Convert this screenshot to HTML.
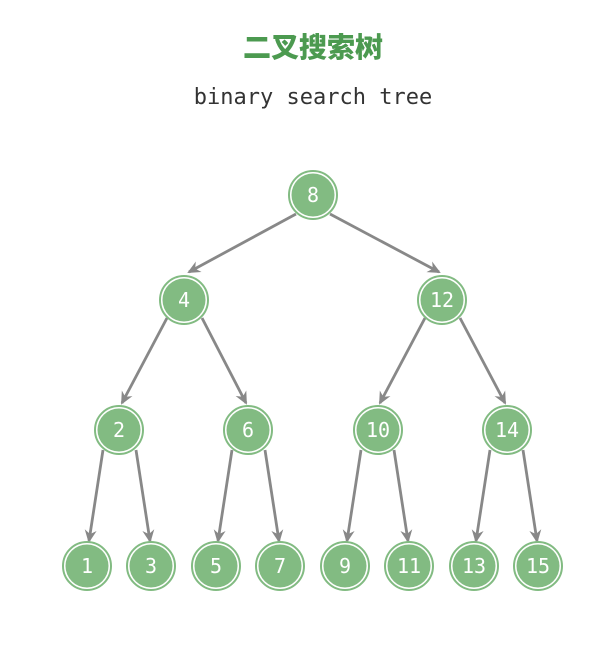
<!DOCTYPE html>
<html><head><meta charset="utf-8"><style>
html,body{margin:0;padding:0;background:#fff;}
</style></head><body>
<svg width="596" height="648" xmlns="http://www.w3.org/2000/svg">
<defs>
<marker id="a" markerWidth="14" markerHeight="14" refX="11" refY="7" orient="auto" markerUnits="userSpaceOnUse" viewBox="0 0 14 14">
<path d="M0,1 L13,7 L0,13 L4,7 Z" fill="#888"/>
</marker>
</defs>
<text x="313" y="57" text-anchor="middle" font-family="'Noto Sans CJK SC',sans-serif" font-weight="900" font-size="28" fill="#4c9a50">二叉搜索树</text>
<text x="313" y="104" text-anchor="middle" font-family="'DejaVu Sans Mono','Liberation Mono',monospace" font-size="22" fill="#333">binary search tree</text>
<g stroke="#888" stroke-width="2.8" fill="none" marker-end="url(#a)">
<line x1="296" y1="214" x2="189" y2="272"/>
<line x1="330" y1="214" x2="439" y2="272"/>
<line x1="167" y1="318" x2="122" y2="403"/>
<line x1="202" y1="318" x2="246" y2="403"/>
<line x1="425" y1="318" x2="380" y2="403"/>
<line x1="460" y1="318" x2="505" y2="403"/>
<line x1="103" y1="450" x2="89" y2="541"/>
<line x1="136" y1="450" x2="150" y2="541"/>
<line x1="232" y1="450" x2="218" y2="541"/>
<line x1="265" y1="450" x2="279" y2="541"/>
<line x1="361" y1="450" x2="347" y2="541"/>
<line x1="394" y1="450" x2="408" y2="541"/>
<line x1="490" y1="450" x2="476" y2="541"/>
<line x1="523" y1="450" x2="537" y2="541"/>
</g>
<g font-family="'DejaVu Sans Mono','Liberation Mono',monospace" font-size="20" fill="#fff" text-anchor="middle">
<g transform="translate(313,195)"><circle r="24" fill="#fff" stroke="#82bb82" stroke-width="2"/><circle r="21.5" fill="#82bb82"/><text y="7">8</text></g>
<g transform="translate(184,300)"><circle r="24" fill="#fff" stroke="#82bb82" stroke-width="2"/><circle r="21.5" fill="#82bb82"/><text y="7">4</text></g>
<g transform="translate(442,300)"><circle r="24" fill="#fff" stroke="#82bb82" stroke-width="2"/><circle r="21.5" fill="#82bb82"/><text y="7">12</text></g>
<g transform="translate(119,430)"><circle r="24" fill="#fff" stroke="#82bb82" stroke-width="2"/><circle r="21.5" fill="#82bb82"/><text y="7">2</text></g>
<g transform="translate(248,430)"><circle r="24" fill="#fff" stroke="#82bb82" stroke-width="2"/><circle r="21.5" fill="#82bb82"/><text y="7">6</text></g>
<g transform="translate(378,430)"><circle r="24" fill="#fff" stroke="#82bb82" stroke-width="2"/><circle r="21.5" fill="#82bb82"/><text y="7">10</text></g>
<g transform="translate(507,430)"><circle r="24" fill="#fff" stroke="#82bb82" stroke-width="2"/><circle r="21.5" fill="#82bb82"/><text y="7">14</text></g>
<g transform="translate(87,566)"><circle r="24" fill="#fff" stroke="#82bb82" stroke-width="2"/><circle r="21.5" fill="#82bb82"/><text y="7">1</text></g>
<g transform="translate(151,566)"><circle r="24" fill="#fff" stroke="#82bb82" stroke-width="2"/><circle r="21.5" fill="#82bb82"/><text y="7">3</text></g>
<g transform="translate(216,566)"><circle r="24" fill="#fff" stroke="#82bb82" stroke-width="2"/><circle r="21.5" fill="#82bb82"/><text y="7">5</text></g>
<g transform="translate(280,566)"><circle r="24" fill="#fff" stroke="#82bb82" stroke-width="2"/><circle r="21.5" fill="#82bb82"/><text y="7">7</text></g>
<g transform="translate(345,566)"><circle r="24" fill="#fff" stroke="#82bb82" stroke-width="2"/><circle r="21.5" fill="#82bb82"/><text y="7">9</text></g>
<g transform="translate(409,566)"><circle r="24" fill="#fff" stroke="#82bb82" stroke-width="2"/><circle r="21.5" fill="#82bb82"/><text y="7">11</text></g>
<g transform="translate(474,566)"><circle r="24" fill="#fff" stroke="#82bb82" stroke-width="2"/><circle r="21.5" fill="#82bb82"/><text y="7">13</text></g>
<g transform="translate(538,566)"><circle r="24" fill="#fff" stroke="#82bb82" stroke-width="2"/><circle r="21.5" fill="#82bb82"/><text y="7">15</text></g>
</g>
</svg>
</body></html>
